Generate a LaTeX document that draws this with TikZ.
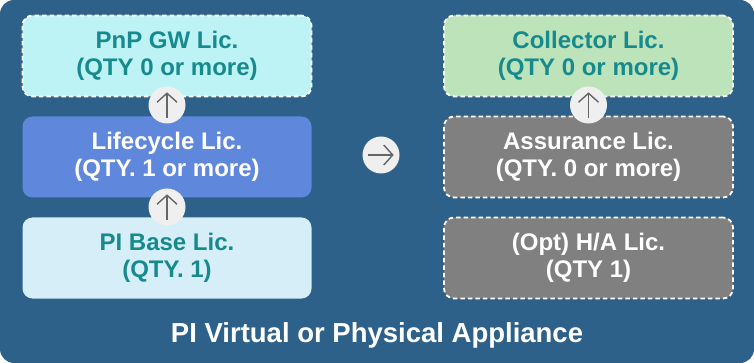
\documentclass[tikz,border=0pt]{standalone}
\usepackage{fontspec}
\setmainfont{Liberation Sans}
\usetikzlibrary{arrows.meta,positioning}
\definecolor{applbg}{HTML}{2D6189}
\definecolor{tealtxt}{HTML}{168A8C}
\definecolor{pnpfill}{HTML}{BDF3F5}
\definecolor{lifefill}{HTML}{5F87DB}
\definecolor{basefill}{HTML}{D5EEF8}
\definecolor{collfill}{HTML}{BDE3BA}
\definecolor{grayfill}{HTML}{808080}
\definecolor{circfill}{HTML}{EFEFEF}
\definecolor{arrgray}{HTML}{666666}

\begin{document}
\begin{tikzpicture}[x=1pt,y=-1pt,node distance=101pt,on grid,
    lic/.style={rounded corners=10pt,minimum width=289pt,minimum height=81pt,align=center,
        font=\bfseries\fontsize{24}{27}\selectfont,inner sep=0pt},
    opt/.style={draw=white,line width=1.8pt,dash pattern=on 4.5pt off 3pt},
    circ/.style={circle,fill=circfill,minimum size=37pt,inner sep=0pt},
    arr/.style={-{Straight Barb[length=9pt,width=20pt]},draw=arrgray,line width=1.4pt,shorten <=6pt,shorten >=6pt}]
    \useasboundingbox (0,0) rectangle (754,363);
    \fill[applbg] (0,0) [rounded corners=14pt] rectangle (754,363);
    % left column
    \node[lic,opt,fill=pnpfill,text=tealtxt] (pnp) at (167,56) {PnP GW Lic.\\(QTY 0 or more)};
    \node[lic,fill=lifefill,text=white] (life) [below=of pnp] {Lifecycle Lic.\\(QTY. 1 or more)};
    \node[lic,fill=basefill,text=tealtxt] (base) [below=of life] {PI Base Lic.\\(QTY. 1)};
    % right column
    \node[lic,opt,fill=collfill,text=tealtxt] (coll) [right=421.5pt of pnp] {Collector Lic.\\(QTY 0 or more)};
    \node[lic,opt,fill=grayfill,text=white] (assur) [below=of coll] {Assurance Lic.\\(QTY. 0 or more)};
    \node[lic,opt,fill=grayfill,text=white] (ha) [below=of assur] {(Opt) H/A Lic.\\(QTY 1)};
    % arrows
    \node[circ] (up_pnp) [below=49pt of pnp] {};
    \node[circ] (up_life) [below=50pt of life] {};
    \node[circ] (up_coll) [below=49pt of coll] {};
    \node[circ] (to_right) at (381,155) {};
    \draw[arr] (up_pnp.south) -- (up_pnp.north);
    \draw[arr] (up_life.south) -- (up_life.north);
    \draw[arr] (up_coll.south) -- (up_coll.north);
    \draw[arr] (to_right.west) -- (to_right.east);
    \node[text=white,font=\bfseries\fontsize{27.5}{30}\selectfont,anchor=base] (appl) at (377,342) {PI Virtual or Physical Appliance};
\end{tikzpicture}
\end{document}
